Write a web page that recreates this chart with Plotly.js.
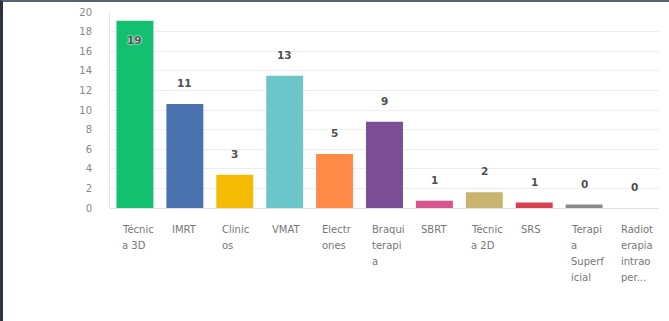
<!DOCTYPE html>
<html>
<head>
<meta charset="utf-8">
<script src="https://cdn.plot.ly/plotly-3.0.1.min.js"></script>
<style>
  html, body { margin: 0; padding: 0; background: #ffffff; }
  #chart { position: absolute; left: 0; top: 0; width: 669px; height: 321px; }
  #frame { position: absolute; left: 0; top: 0; width: 669px; height: 321px; box-sizing: border-box;
           border-left: 3px solid #2a333f; border-top: 2px solid #5a626e; pointer-events: none; }
</style>
</head>
<body>
<div id="chart"></div>
<div id="frame"></div>
<script>
// Categories (wrapped lines separated by "|")
var categories = ["Técnica 3D", "IMRT", "Clínicos", "VMAT", "Electrones", "Braquiterapia",
                  "SBRT", "Técnica 2D", "SRS", "Terapia Superficial", "Radioterapia intraoperatoria"];
var tickLabels = ["Técnic|a 3D", "IMRT", "Clinic|os", "VMAT", "Electr|ones", "Braqui|terapi|a",
                  "SBRT", "Técnic|a 2D", "SRS", "Terapi|a|Superf|icial", "Radiot|erapia|intrao|per..."];
// Bar heights as drawn
var barHeights = [19.1, 10.6, 3.4, 13.5, 5.5, 8.8, 0.75, 1.6, 0.55, 0.35, 0];
// Value labels as printed
var valueLabels = ["19", "11", "3", "13", "5", "9", "1", "2", "1", "0", "0"];
var colors = ["#12c06f", "#4a72ae", "#f6bc05", "#6cc6ca", "#ff8a48", "#7a4d95",
              "#d8528e", "#c8b46e", "#d8424f", "#8a8a8a", "#bbbbbb"];
var yTicks = [0, 2, 4, 6, 8, 10, 12, 14, 16, 18, 20];

var annotations = [];
categories.forEach(function (c, i) {
  var inside = barHeights[i] > 17;
  annotations.push({
    x: c, y: barHeights[i], xref: "x", yref: "y",
    text: valueLabels[i], showarrow: false,
    yshift: inside ? -19 : 21,
    font: { family: "DejaVu Sans", size: 10.5, color: "#505050", weight: 700,
            shadow: inside ? "0 0 2px #ffffff, 0 0 2px #ffffff" : "none" }
  });
  tickLabels[i].split("|").forEach(function (line, k) {
    annotations.push({
      x: c, y: 0, xref: "x", yref: "paper",
      text: line, showarrow: false,
      xanchor: "left", yanchor: "middle", align: "left",
      xshift: -15, yshift: -21 - 16.3 * k,
      font: { family: "DejaVu Sans", size: 10, color: "#777777" }
    });
  });
});

var data = [{
  type: "bar",
  x: categories,
  y: barHeights,
  marker: { color: colors, line: { width: 0 } },
  hoverinfo: "none"
}];

var layout = {
  width: 669, height: 321,
  margin: { l: 109.5, r: 9.5, t: 12, b: 113 },
  paper_bgcolor: "#ffffff", plot_bgcolor: "#ffffff",
  bargap: 0.26,
  showlegend: false,
  xaxis: {
    type: "category", showticklabels: false, showgrid: false, zeroline: false,
    showline: false, ticks: ""
  },
  yaxis: {
    range: [0, 20], tickvals: yTicks, ticktext: yTicks.map(String),
    showgrid: true, gridcolor: "#eeeeee", gridwidth: 1,
    zeroline: true, zerolinecolor: "#e2e2e2", zerolinewidth: 1,
    showline: true, linecolor: "#e6e6e6", linewidth: 1,
    ticks: "outside", ticklen: 15, tickcolor: "rgba(0,0,0,0)",
    tickfont: { family: "DejaVu Sans", size: 10, color: "#888888" },
    fixedrange: true
  },
  annotations: annotations,
  font: { family: "DejaVu Sans" }
};

Plotly.newPlot("chart", data, layout, { displayModeBar: false, staticPlot: true });
</script>
</body>
</html>
